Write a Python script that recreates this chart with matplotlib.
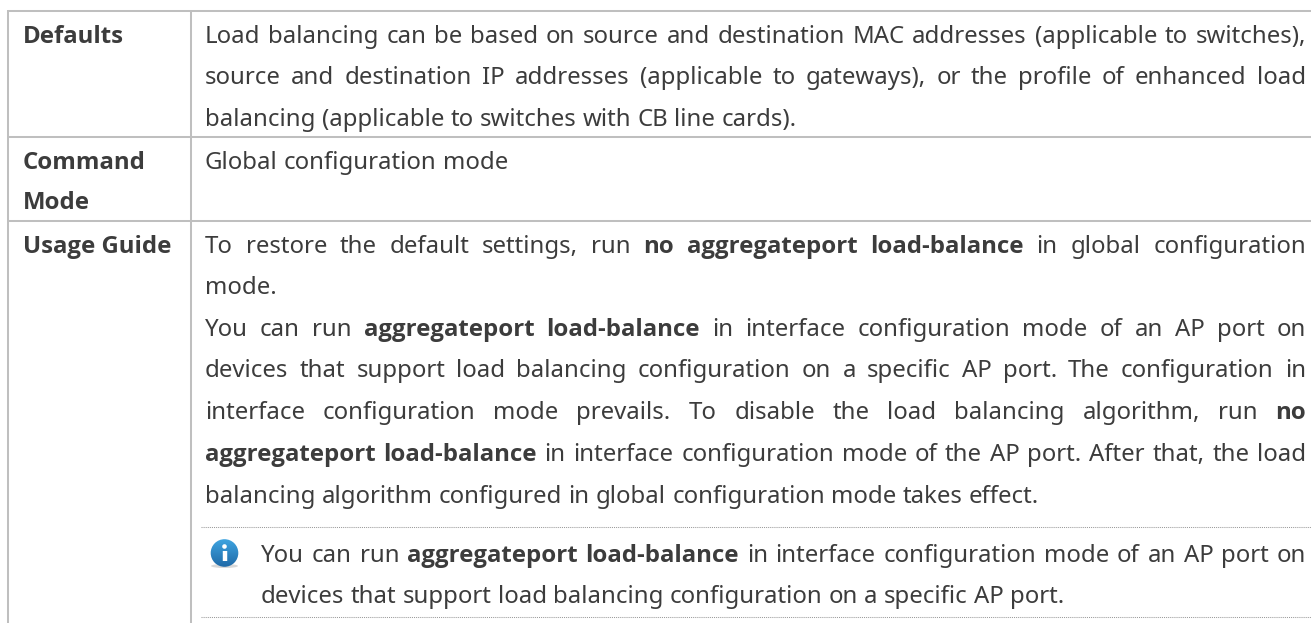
import numpy as np
import matplotlib
matplotlib.use('Agg')
import matplotlib.pyplot as plt
from matplotlib.patches import Circle, Ellipse

# Table text, bold words are wrapped in *
row_titles = ['Defaults', 'Command', 'Mode', 'Usage Guide']

defaults_lines = [
    'Load balancing can be based on source and destination MAC addresses (applicable to switches),',
    'source and destination IP addresses (applicable to gateways), or the profile of enhanced load',
    'balancing (applicable to switches with CB line cards).',
]
command_lines = ['Global configuration mode']
usage_lines = [
    'To restore the default settings, run *no* *aggregateport* *load-balance* in global configuration',
    'mode.',
    'You can run *aggregateport* *load-balance* in interface configuration mode of an AP port on',
    'devices that support load balancing configuration on a specific AP port. The configuration in',
    'interface configuration mode prevails. To disable the load balancing algorithm, run *no*',
    '*aggregateport* *load-balance* in interface configuration mode of the AP port. After that, the load',
    'balancing algorithm configured in global configuration mode takes effect.',
]
note_lines = [
    'You can run *aggregateport* *load-balance* in interface configuration mode of an AP port on',
    'devices that support load balancing configuration on a specific AP port.',
]

W, H = 1311, 623
FONT = 'Noto Sans'
BOLD_FONT = 'Open Sans'  # the Noto Sans here has no usable bold
SIZE = 17.25
BOLD_SIZE = 17.25
TEXT_COLOR = '#3c3c3c'
GRID_COLOR = '#bfbfbf'

fig = plt.figure(figsize=(W / 100, H / 100), dpi=100)
ax = fig.add_axes([0, 0, 1, 1])
ax.set_xlim(0, W)
ax.set_ylim(H, 0)
ax.axis('off')
renderer = fig.canvas.get_renderer()


def font_args(bold):
    if bold:
        return {'family': BOLD_FONT, 'fontweight': 'bold', 'fontsize': BOLD_SIZE}
    return {'family': FONT, 'fontsize': SIZE}


def word_width(word, bold):
    t = ax.text(0, 0, word, **font_args(bold))
    w = renderer.get_text_width_height_descent(word, t.get_fontproperties(), False)[0]
    t.remove()
    return w


space = word_width('a b', False) - word_width('ab', False)


# Draws one line word by word, stretching the gaps when it has to reach x_right
def draw_line(line, x_left, baseline, x_right=None):
    words = [(w.strip('*'), w.startswith('*')) for w in line.split(' ')]
    widths = [word_width(w, b) for w, b in words]
    gap = space
    if x_right is not None and len(words) > 1:
        gap = (x_right - x_left - sum(widths)) / (len(words) - 1)
    x = x_left
    for (w, b), wd in zip(words, widths):
        ax.text(x, baseline, w, color=TEXT_COLOR, va='baseline', ha='left', **font_args(b))
        x += wd + gap


# Table rules
for y in [11, 137, 221]:
    ax.plot([8, W], [y, y], color=GRID_COLOR, lw=1.45, solid_capstyle='butt')
for x in [8, 191]:
    ax.plot([x, x], [10, H], color=GRID_COLOR, lw=1.45, solid_capstyle='butt')
for y in [527, 617]:
    ax.plot([201, W], [y, y], color='#9a9a9a', lw=0.75, ls=(0, (1, 1)))

# Left column
for title, y in zip(row_titles, [43, 169, 209, 253]):
    ax.text(23, y, title, color=TEXT_COLOR, va='baseline', **font_args(True))

# Right column
TEXT_L, NOTE_L, TEXT_R = 205, 261, 1306
for line, y, just in zip(defaults_lines, [43, 84, 126], [True, True, False]):
    draw_line(line, TEXT_L, y, TEXT_R if just else None)
draw_line(command_lines[0], TEXT_L, 169)
for line, y, just in zip(usage_lines, [253, 294, 336, 377, 419, 461, 503],
                         [True, False, True, True, True, True, False]):
    draw_line(line, TEXT_L, y, TEXT_R if just else None)
draw_line(note_lines[0], NOTE_L, 562, TEXT_R)
draw_line(note_lines[1], NOTE_L, 603)

# Info icon
ax.add_patch(Ellipse((224.5, 566), 27, 4, color='#d8d8d8', lw=0, zorder=2))
grad = np.linspace(0, 1, 64).reshape(-1, 1)
cmap = matplotlib.colors.LinearSegmentedColormap.from_list('icon', ['#3fa4e0', '#1f6aa8'])
img = ax.imshow(grad, extent=(210, 239, 567, 539), cmap=cmap, aspect='auto', zorder=3)
img.set_clip_path(Circle((224.5, 553), 13.8, transform=ax.transData))
ax.set_xlim(0, W)
ax.set_ylim(H, 0)
ax.add_patch(Circle((224.5, 546.5), 2.3, color='white', lw=0, zorder=4))
ax.plot([224.5, 224.5], [550.5, 561], color='white', lw=3.2, solid_capstyle='butt', zorder=4)

fig.savefig('out.png', dpi=100, facecolor='white')
